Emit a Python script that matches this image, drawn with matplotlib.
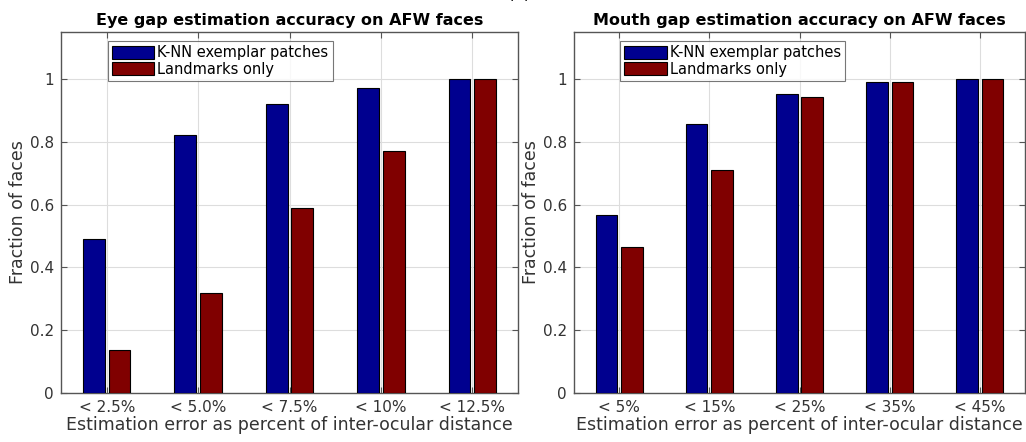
import matplotlib
matplotlib.use("Agg")
import matplotlib.pyplot as plt
import numpy as np

eye_labels = ["< 2.5%", "< 5.0%", "< 7.5%", "< 10%", "< 12.5%"]
eye_knn = [0.49, 0.823, 0.922, 0.972, 1.0]
eye_lm = [0.138, 0.32, 0.59, 0.77, 1.0]

mouth_labels = ["< 5%", "< 15%", "< 25%", "< 35%", "< 45%"]
mouth_knn = [0.566, 0.857, 0.954, 0.99, 1.0]
mouth_lm = [0.464, 0.711, 0.944, 0.99, 1.0]

series_names = ["K-NN exemplar patches", "Landmarks only"]
blue = "#00008f"
red = "#800000"

plt.rcParams["font.family"] = "DejaVu Sans"

fig = plt.figure(figsize=(10.26, 4.42), dpi=100)
W, H = 1026, 442
ax1 = fig.add_axes([61 / W, 1 - 393 / H, (518 - 61) / W, (393 - 32) / H])
ax2 = fig.add_axes([574 / W, 1 - 393 / H, (1025 - 574) / W, (393 - 32) / H])


def draw(ax, labels, knn, lm, title):
    x = np.arange(1, len(labels) + 1)
    w = 0.24
    ax.bar(x - 0.14, knn, w, color=blue, edgecolor="black", linewidth=0.8,
           label=series_names[0], zorder=3)
    ax.bar(x + 0.14, lm, w, color=red, edgecolor="black", linewidth=0.8,
           label=series_names[1], zorder=3)
    ax.set_xlim(0.5, len(labels) + 0.5)
    ax.set_ylim(0, 1.15)
    ax.set_xticks(x)
    ax.set_xticklabels(labels, fontsize=11, color="#333333")
    ax.set_yticks([0, 0.2, 0.4, 0.6, 0.8, 1])
    ax.set_yticklabels(["0", "0.2", "0.4", "0.6", "0.8", "1"], fontsize=11,
                       color="#333333")
    ax.grid(True, color="#dddddd", linewidth=0.8, zorder=0)
    ax.tick_params(direction="in", length=4, color="#555555", top=True,
                   right=True, pad=5)
    for s in ax.spines.values():
        s.set_color("#555555")
        s.set_linewidth(1.0)
    ax.set_title(title, fontsize=11.5, fontweight="bold", pad=5)
    ax.set_xlabel("Estimation error as percent of inter-ocular distance",
                  fontsize=12.5, color="#333333", labelpad=1)
    ax.set_ylabel("Fraction of faces", fontsize=12.5, color="#333333",
                  labelpad=2)
    leg = ax.legend(loc="upper left", bbox_to_anchor=(0.102, 0.975),
                    fontsize=10.5, frameon=True, fancybox=False,
                    edgecolor="#555555", handlelength=2.9, handleheight=1.0,
                    handletextpad=0.2, borderpad=0.3, labelspacing=0.1,
                    borderaxespad=0)
    leg.get_frame().set_linewidth(0.8)


draw(ax1, eye_labels, eye_knn, eye_lm,
     "Eye gap estimation accuracy on AFW faces")
draw(ax2, mouth_labels, mouth_knn, mouth_lm,
     "Mouth gap estimation accuracy on AFW faces")

fig.text(519 / W, 1 + 6 / H, "(b)", fontsize=12, ha="center", va="center")

fig.savefig("out.png", dpi=100)
